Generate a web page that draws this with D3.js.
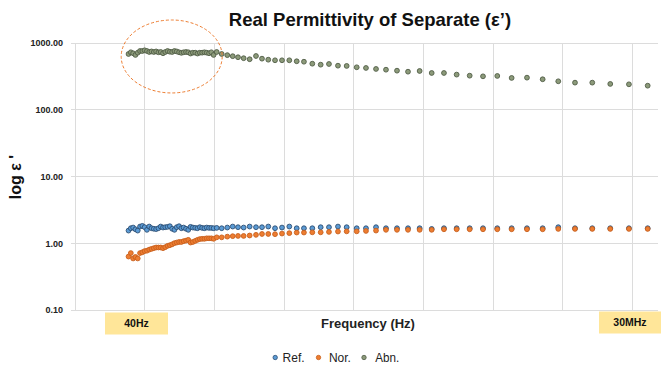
<!DOCTYPE html>
<html>
<head>
<meta charset="utf-8">
<script src="https://cdn.jsdelivr.net/npm/d3@7/dist/d3.min.js"></script>
<style>
  html, body { margin: 0; padding: 0; background: #fff; }
  svg { display: block; font-family: "Liberation Sans", Arial, sans-serif; }
</style>
</head>
<body>
<svg id="chart" width="668" height="365"></svg>
<script>
// ---- data ----
const seriesNames = ["Ref.", "Nor.", "Abn."];
const yTicks = [0.1, 1, 10, 100, 1000];
const xEndLabels = ["40Hz", "30MHz"];

// x position of each measurement (axis units)
const xPos = [
  0.768,0.801,0.834,0.867,0.900,0.933,0.966,0.999,1.032,1.065,1.098,1.131,1.164,1.197,1.230,1.263,1.295,1.328,1.361,1.394,
  1.427,1.460,1.493,1.526,1.559,1.593,1.625,1.658,1.691,1.725,1.758,1.791,1.824,1.857,1.890,1.923,1.956,1.989,
  2.033,
  2.105,2.185,2.263,2.339,2.420,2.506,2.597,2.683,2.773,2.870,2.970,3.075,3.181,
  3.285,3.405,3.525,3.644,3.773,3.898,4.042,4.175,4.319,4.462,4.620,4.778,4.945,5.118,5.294,5.476,5.663,5.854,
  6.059,6.265,6.485,6.710,6.934,7.174,7.422,7.680,7.948,8.217
];

const refVals = [
  1.54,1.67,1.71,1.61,1.54,1.77,1.81,1.73,1.58,1.77,1.67,1.64,1.62,1.67,1.77,1.71,1.73,1.75,1.79,1.64,
  1.58,1.73,1.79,1.67,1.71,1.64,1.58,1.75,1.71,1.69,1.67,1.73,1.69,1.67,1.71,1.69,1.69,1.67,
  1.69,
  1.67,1.71,1.77,1.73,1.71,1.77,1.73,1.73,1.77,1.67,1.71,1.77,1.67,
  1.67,1.67,1.73,1.73,1.77,1.73,1.67,1.67,1.73,1.67,1.67,1.67,1.67,1.63,1.67,1.67,1.67,1.67,
  1.67,1.67,1.67,1.67,1.73,1.67,1.67,1.67,1.67,1.67
];

const norVals = [
  0.63,0.71,0.59,0.62,0.59,0.71,0.73,0.76,0.77,0.80,0.82,0.84,0.86,0.86,0.86,0.84,0.87,0.91,0.93,0.96,
  1.00,1.02,1.04,1.04,1.07,1.09,1.12,1.02,1.04,1.08,1.12,1.15,1.16,1.16,1.18,1.18,1.18,1.16,
  1.22,
  1.22,1.25,1.27,1.28,1.28,1.30,1.33,1.37,1.37,1.36,1.39,1.41,1.44,
  1.44,1.45,1.45,1.47,1.49,1.50,1.50,1.52,1.54,1.58,1.58,1.58,1.58,1.58,1.61,1.61,1.61,1.61,
  1.61,1.61,1.61,1.61,1.63,1.63,1.63,1.63,1.63,1.63
];

const abnVals = [
  673,714,690,651,704,746,746,764,746,721,735,721,735,714,721,690,721,746,728,721,
  746,735,714,700,714,721,714,684,704,704,684,704,704,714,704,690,714,651,
  721,
  673,647,624,602,582,562,628,573,553,542,542,542,524,
  516,482,466,477,450,446,426,416,402,392,379,366,375,350,350,331,319,312,316,295,
  298,282,263,251,251,240,237,226
];

// highlighted region (data units)
const highlightX = [0.663, 2.112];
const highlightY = [176, 2170];

// ---- styles ----
const fills = ["#5b9bd5", "#ed7d31", "#8c9a7a"];
const strokes = ["#2d4e73", "#c85f1c", "#505c46"];

// ---- layout ----
const svg = d3.select("#chart");
const x = d3.scaleLinear().domain([0, 8.365]).range([75, 658]);
const y = d3.scaleLog().domain([0.1, 1000]).range([310, 42.5]);

// vertical gridlines
svg.append("g").selectAll("line")
  .data(d3.range(0, 9))
  .join("line")
  .attr("x1", d => x(d)).attr("x2", d => x(d))
  .attr("y1", y(1000)).attr("y2", y(0.1))
  .attr("stroke", "#dcdcdc").attr("stroke-width", 1)
  .attr("shape-rendering", "crispEdges");

// y axis with horizontal gridlines
const yAxis = d3.axisLeft(y)
  .tickValues(yTicks)
  .tickFormat(d3.format(".2f"))
  .tickSize(-(x(8.365) - x(0)))
  .tickPadding(12);
const gy = svg.append("g").attr("transform", `translate(${x(0)},0)`).call(yAxis);
gy.select(".domain").remove();
gy.selectAll(".tick line").attr("stroke", "#dcdcdc").attr("x1", -4).attr("shape-rendering", "crispEdges");
gy.selectAll(".tick text")
  .attr("font-size", "9px").attr("font-weight", "bold").attr("fill", "#222")
  .attr("font-family", "'Liberation Sans', Arial, sans-serif");

// series
const series = [refVals, norVals, abnVals];
series.forEach((vals, si) => {
  svg.append("g").selectAll("circle")
    .data(vals.map((v, i) => ({ x: xPos[i], v })))
    .join("circle")
    .attr("cx", d => x(d.x)).attr("cy", d => y(d.v))
    .attr("r", 2.4)
    .attr("fill", fills[si]).attr("stroke", strokes[si]).attr("stroke-width", 0.9);
});

// highlight ellipse
const ex0 = x(highlightX[0]), ex1 = x(highlightX[1]);
const ey0 = y(highlightY[1]), ey1 = y(highlightY[0]);
svg.append("ellipse")
  .attr("cx", (ex0 + ex1) / 2).attr("cy", (ey0 + ey1) / 2)
  .attr("rx", (ex1 - ex0) / 2).attr("ry", (ey1 - ey0) / 2)
  .attr("fill", "none").attr("stroke", "#ed7d31").attr("stroke-width", 1)
  .attr("stroke-dasharray", "3,2");

// title
svg.append("text")
  .attr("x", 370).attr("y", 26)
  .attr("text-anchor", "middle")
  .attr("font-size", "18.5px").attr("font-weight", "bold").attr("fill", "#111")
  .text("Real Permittivity of Separate (ε’)");

// y axis title
svg.append("text")
  .attr("transform", "translate(21,177) rotate(-90)")
  .attr("text-anchor", "middle")
  .attr("font-size", "16px").attr("font-weight", "bold").attr("fill", "#111")
  .text("log ε '");

// x axis title
svg.append("text")
  .attr("x", 368).attr("y", 328)
  .attr("text-anchor", "middle")
  .attr("font-size", "13px").attr("font-weight", "bold").attr("fill", "#222")
  .text("Frequency (Hz)");

// end labels in yellow boxes
const boxes = [
  { label: xEndLabels[0], x0: 105, x1: 168, y0: 312.5, y1: 334.5 },
  { label: xEndLabels[1], x0: 599, x1: 661, y0: 311.5, y1: 333.5 }
];
boxes.forEach(b => {
  svg.append("rect")
    .attr("x", b.x0).attr("y", b.y0)
    .attr("width", b.x1 - b.x0).attr("height", b.y1 - b.y0)
    .attr("fill", "#ffe699");
  svg.append("text")
    .attr("x", (b.x0 + b.x1) / 2).attr("y", (b.y0 + b.y1) / 2 + 3.8)
    .attr("text-anchor", "middle")
    .attr("font-size", "10.5px").attr("font-weight", "bold").attr("fill", "#111")
    .text(b.label);
});

// legend
const legendItems = [
  { mx: 275.2, tx: 282.6, w: 22 },
  { mx: 318.5, tx: 328.9, w: 22 },
  { mx: 364, tx: 375.2, w: 24 }
];
legendItems.forEach((it, i) => {
  svg.append("circle")
    .attr("cx", it.mx).attr("cy", 357.5).attr("r", 2.2)
    .attr("fill", fills[i]).attr("stroke", strokes[i]).attr("stroke-width", 0.8);
  svg.append("text")
    .attr("x", it.tx).attr("y", 362)
    .attr("font-size", "13px").attr("fill", "#222")
    .attr("font-family", "'Liberation Sans Narrow', 'Arial Narrow', 'Liberation Sans', Arial, sans-serif")
    .attr("textLength", it.w).attr("lengthAdjust", "spacingAndGlyphs")
    .text(seriesNames[i]);
});
</script>
</body>
</html>
